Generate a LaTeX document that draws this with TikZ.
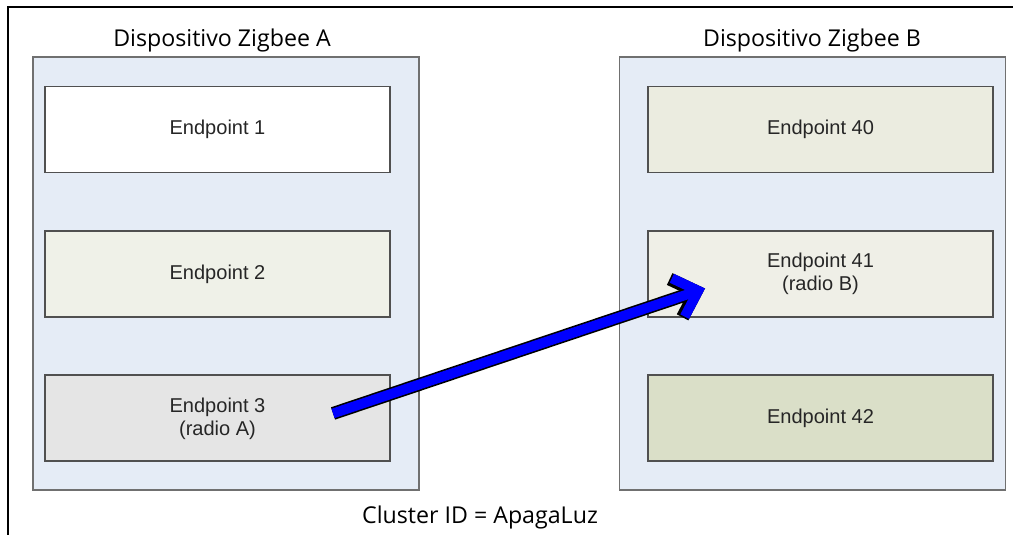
\documentclass[tikz,border=0pt]{standalone}
\usepackage{fontspec}
\setmainfont{Liberation Sans}
\newfontfamily\headfont{Open Sans}
\usetikzlibrary{positioning,arrows.meta}
\definecolor{devicefill}{HTML}{E5ECF6}
\definecolor{deviceline}{HTML}{707070}
\definecolor{epline}{HTML}{505050}
\definecolor{epgreen}{HTML}{EFF1E8}
\definecolor{epgray}{HTML}{E5E5E5}
\definecolor{epkhaki}{HTML}{EBECE0}
\definecolor{epcream}{HTML}{EFEFE7}
\definecolor{epolive}{HTML}{DADFC8}
\definecolor{arrowblue}{HTML}{0000FF}
\tikzstyle{device} = [rectangle, minimum width = 7.72cm, minimum height = 8.66cm, draw = deviceline, line width = 0.9pt, fill = devicefill]
\tikzstyle{endpoint} = [rectangle, minimum width = 6.9cm, minimum height = 1.72cm, text centered, align = center, draw = epline, line width = 1.1pt, text = black!85, font = \fontsize{11.4}{13}\selectfont]
\tikzstyle{title} = [font = \headfont\fontsize{13.2}{16}\selectfont, text = black]
\tikzstyle{arrowback} = [line width = 7.4pt, black, -{Straight Barb[sharp, length = 12pt, width = 23pt]}]
\tikzstyle{arrowfront} = [line width = 5.6pt, arrowblue, -{Straight Barb[sharp, length = 12pt, width = 23pt]}]

\begin{document}
\begin{tikzpicture}[x = 0.02cm, y = -0.02cm, node distance = 2.89cm]

	\useasboundingbox (0,0) rectangle (1013,535);
	\draw[line width = 1.5pt] (1013,7) -- (8,7) -- (8,535);

	\node[device](Device A) at (226,273.5){};
	\node[device](Device B) at (812.5,273.5){};
	\node[title](Title A) at (222,40){Dispositivo Zigbee A};
	\node[title](Title B) at (812,40){Dispositivo Zigbee B};

	\node[endpoint, fill = white](Endpoint 1) at (217.5,129.5){Endpoint 1};
	\node[endpoint, fill = epgreen, below of = Endpoint 1](Endpoint 2){Endpoint 2};
	\node[endpoint, fill = epgray, below of = Endpoint 2](Endpoint 3){Endpoint 3\\(radio A)};

	\node[endpoint, fill = epkhaki](Endpoint 40) at (820.5,129.5){Endpoint 40};
	\node[endpoint, fill = epcream, below of = Endpoint 40](Endpoint 41){Endpoint 41\\(radio B)};
	\node[endpoint, fill = epolive, below of = Endpoint 41](Endpoint 42){Endpoint 42};

	\node[title](Cluster) at (480,517){Cluster ID = ApagaLuz};

	\coordinate (Radio A) at ([shift = {(115.5,-5)}]Endpoint 3.center);
	\coordinate (Radio B) at ([shift = {(-115.5,14.5)}]Endpoint 41.center);
	\draw [arrowback](Radio A)--(Radio B);
	\draw [arrowfront](Radio A)--(Radio B);

\end{tikzpicture}
\end{document}
